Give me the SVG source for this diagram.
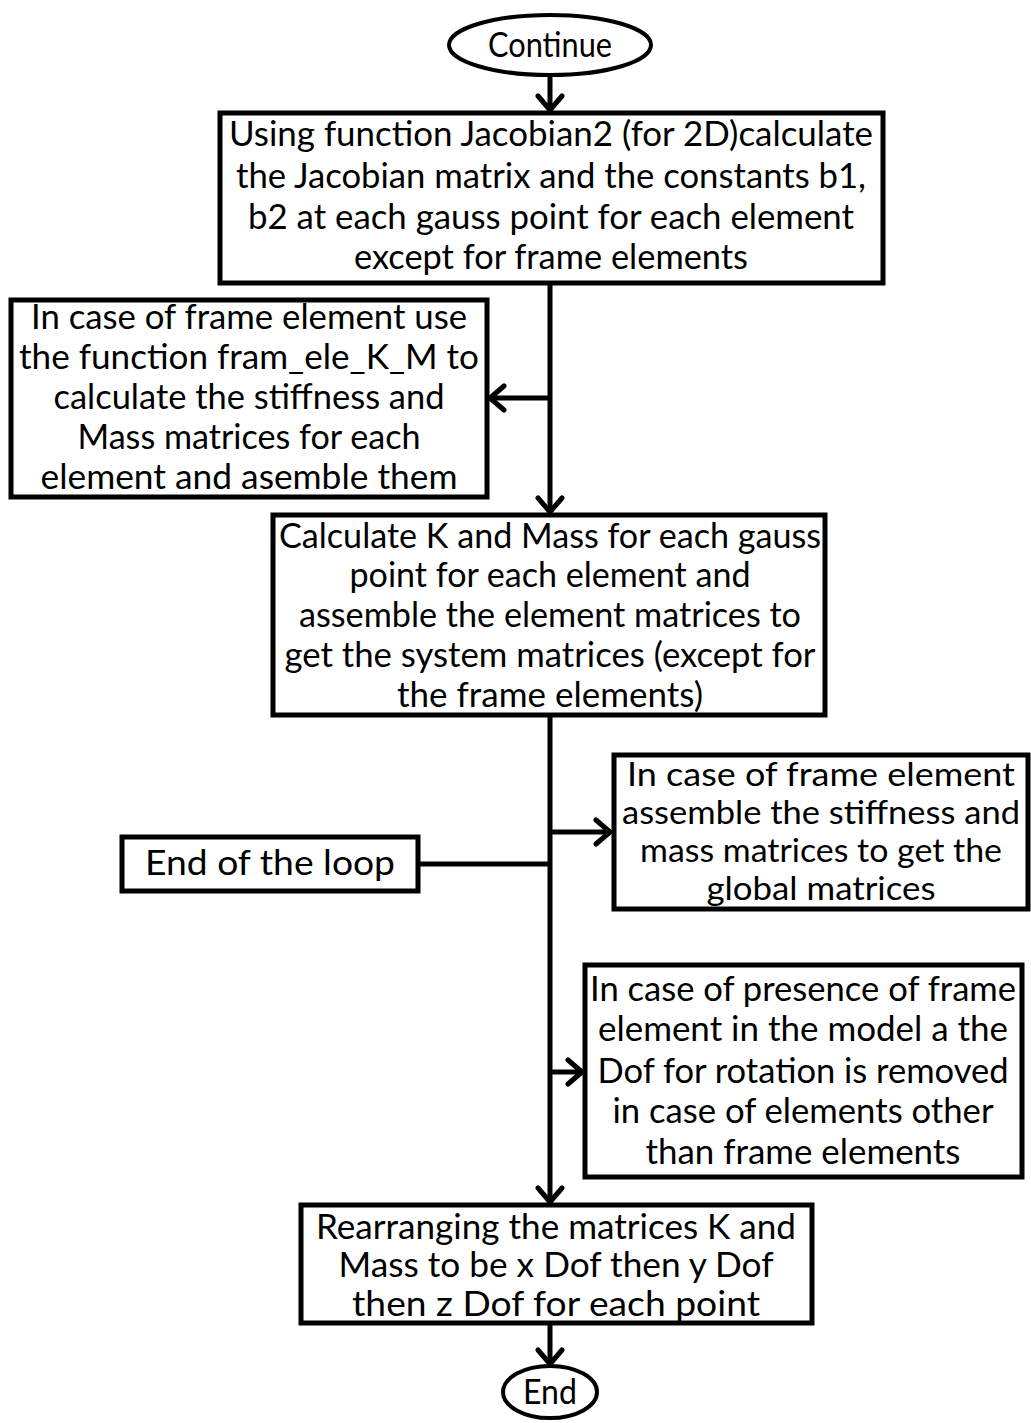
<svg xmlns="http://www.w3.org/2000/svg" width="1031" height="1423" viewBox="0 0 1031 1423">
  <defs>
    <marker id="arrow" markerUnits="userSpaceOnUse" markerWidth="30" markerHeight="30" viewBox="-20 -15 30 30" refX="1" refY="0" orient="auto">
      <path d="M -14 -12 L 0 0 L -14 12" fill="none" stroke="#000" stroke-width="5" stroke-linecap="round" stroke-linejoin="round"/>
    </marker>
  </defs>
  <style>
    .box { fill: #fff; stroke: #000; stroke-width: 5; }
    .term { fill: #fff; stroke: #000; stroke-width: 4; }
    .lbl { font-family: Lato, "Liberation Sans", sans-serif; font-size: 35px; fill: #000; text-anchor: middle; }
    .tight { font-size: 32px; }
    .wire { fill: none; stroke: #000; stroke-width: 5; }
    .wire-a { fill: none; stroke: #000; stroke-width: 5; marker-end: url(#arrow); }
  </style>
  <rect width="1031" height="1423" fill="#fff"/>

  <!-- connectors -->
  <g id="connectors">
    <line class="wire-a" x1="550" y1="76" x2="550" y2="111"/>
    <line class="wire-a" x1="550" y1="283" x2="550" y2="513"/>
    <line class="wire-a" x1="550" y1="398" x2="489" y2="398"/>
    <line class="wire-a" x1="550" y1="715" x2="550" y2="1203"/>
    <line class="wire-a" x1="550" y1="832" x2="611" y2="832"/>
    <line class="wire" x1="418" y1="864" x2="550" y2="864"/>
    <line class="wire-a" x1="550" y1="1072" x2="583" y2="1072"/>
    <line class="wire-a" x1="550" y1="1323" x2="550" y2="1365"/>
  </g>

  <!-- start -->
  <g id="node-continue">
    <ellipse class="term" cx="550" cy="45" rx="101" ry="30"/>
    <text class="lbl" x="550" y="57" textLength="124" lengthAdjust="spacingAndGlyphs">Continue</text>
  </g>

  <g id="node-jacobian">
    <rect class="box" x="220" y="113" width="663" height="170"/>
    <text class="lbl" x="551" y="146" textLength="644" lengthAdjust="spacingAndGlyphs">Using function Jacobian2 (for 2D)calculate</text>
    <text class="lbl" x="551" y="188" textLength="630" lengthAdjust="spacingAndGlyphs">the Jacobian matrix and the constants b1,</text>
    <text class="lbl" x="551" y="229" textLength="606" lengthAdjust="spacingAndGlyphs">b2 at each gauss point for each element</text>
    <text class="lbl" x="551" y="269" textLength="394" lengthAdjust="spacingAndGlyphs">except for frame elements</text>
  </g>

  <g id="node-frame-km">
    <rect class="box" x="11" y="300" width="476" height="197"/>
    <text class="lbl" x="249" y="329" textLength="436" lengthAdjust="spacingAndGlyphs">In case of frame element use</text>
    <text class="lbl" x="249" y="369" textLength="460" lengthAdjust="spacingAndGlyphs">the function fram_ele_K_M to</text>
    <text class="lbl" x="249" y="409" textLength="391" lengthAdjust="spacingAndGlyphs">calculate the stiffness and</text>
    <text class="lbl" x="249" y="449" textLength="343" lengthAdjust="spacingAndGlyphs">Mass matrices for each</text>
    <text class="lbl" x="249" y="489" textLength="417" lengthAdjust="spacingAndGlyphs">element and asemble them</text>
  </g>

  <g id="node-calc-k-mass">
    <rect class="box" x="273" y="515" width="552" height="200"/>
    <text class="lbl" x="550" y="548" textLength="542" lengthAdjust="spacingAndGlyphs">Calculate K and Mass for each gauss</text>
    <text class="lbl" x="550" y="587" textLength="401" lengthAdjust="spacingAndGlyphs">point for each element and</text>
    <text class="lbl" x="550" y="627" textLength="502" lengthAdjust="spacingAndGlyphs">assemble the element matrices to</text>
    <text class="lbl" x="550" y="667" textLength="531" lengthAdjust="spacingAndGlyphs">get the system matrices (except for</text>
    <text class="lbl" x="550" y="707" textLength="306" lengthAdjust="spacingAndGlyphs">the frame elements)</text>
  </g>

  <g id="node-frame-assemble">
    <rect class="box" x="614" y="755" width="414" height="154"/>
    <text class="lbl tight" x="821" y="786" textLength="388" lengthAdjust="spacingAndGlyphs">In case of frame element</text>
    <text class="lbl tight" x="821" y="824" textLength="398" lengthAdjust="spacingAndGlyphs">assemble the stiffness and</text>
    <text class="lbl tight" x="821" y="862" textLength="362" lengthAdjust="spacingAndGlyphs">mass matrices to get the</text>
    <text class="lbl tight" x="821" y="900" textLength="229" lengthAdjust="spacingAndGlyphs">global matrices</text>
  </g>

  <g id="node-end-loop">
    <rect class="box" x="122" y="837" width="296" height="54"/>
    <text class="lbl" x="270" y="875" textLength="250" lengthAdjust="spacingAndGlyphs">End of the loop</text>
  </g>

  <g id="node-rotation-dof">
    <rect class="box" x="585" y="965" width="437" height="212"/>
    <text class="lbl" x="803" y="1001" textLength="426" lengthAdjust="spacingAndGlyphs">In case of presence of frame</text>
    <text class="lbl" x="803" y="1041" textLength="410" lengthAdjust="spacingAndGlyphs">element in the model a the</text>
    <text class="lbl" x="803" y="1083" textLength="411" lengthAdjust="spacingAndGlyphs">Dof for rotation is removed</text>
    <text class="lbl" x="803" y="1123" textLength="381" lengthAdjust="spacingAndGlyphs">in case of elements other</text>
    <text class="lbl" x="803" y="1164" textLength="315" lengthAdjust="spacingAndGlyphs">than frame elements</text>
  </g>

  <g id="node-rearrange">
    <rect class="box" x="301" y="1205" width="511" height="118"/>
    <text class="lbl" x="556" y="1239" textLength="480" lengthAdjust="spacingAndGlyphs">Rearranging the matrices K and</text>
    <text class="lbl" x="556" y="1277" textLength="435" lengthAdjust="spacingAndGlyphs">Mass to be x Dof then y Dof</text>
    <text class="lbl" x="556" y="1316" textLength="408" lengthAdjust="spacingAndGlyphs">then z Dof for each point</text>
  </g>

  <!-- stop -->
  <g id="node-end">
    <ellipse class="term" cx="550" cy="1392" rx="47" ry="26"/>
    <text class="lbl" x="550" y="1404" textLength="54" lengthAdjust="spacingAndGlyphs">End</text>
  </g>
</svg>
